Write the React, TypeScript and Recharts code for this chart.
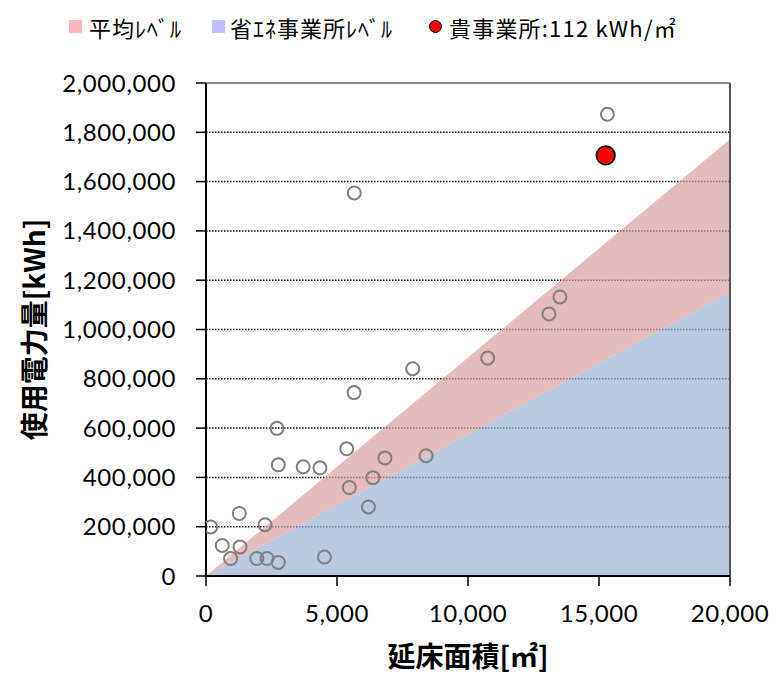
import React from 'react';
import { ComposedChart, Area, Scatter, XAxis, YAxis, CartesianGrid, ReferenceLine, Label } from 'recharts';

// Benchmark level lines (kWh vs floor area)
const levelArea = [0, 20000];
const averageLevel = [0, 1772000];
const savingLevel = [0, 1151000];

// Other facilities
const floorArea = [180, 620, 1270, 1300, 940, 2250, 1940, 2330, 2760, 2710, 2760, 3710, 4350, 4520, 5650, 5370, 5470, 6200, 6370, 6830, 7890, 8400, 10750, 5660, 15320, 13510, 13090];
const consumption = [199000, 124000, 254000, 118000, 71000, 208000, 71000, 71000, 55000, 599000, 451000, 443000, 439000, 77000, 744000, 516000, 359000, 280000, 399000, 479000, 841000, 488000, 884000, 1554000, 1873000, 1132000, 1063000];

// Own facility
const ownArea = [15256];
const ownConsumption = [1706000];

const xTicks = [0, 5000, 10000, 15000, 20000];
const yTicks = [0, 200000, 400000, 600000, 800000, 1000000, 1200000, 1400000, 1600000, 1800000, 2000000];

const legendLabels = ['平均ﾚﾍﾞﾙ', '省ｴﾈ事業所ﾚﾍﾞﾙ', '貴事業所:112 kWh/㎡'];

const levelData = levelArea.map((x, i) => ({ x, band: [savingLevel[i], averageLevel[i]], base: [0, savingLevel[i]] }));
const pointData = floorArea.map((x, i) => ({ x, y: consumption[i] }));
const ownData = ownArea.map((x, i) => ({ x, y: ownConsumption[i] }));

const fmt = (v: number) => v.toLocaleString('en-US');
const tickFont = { fontFamily: 'Lato, "Noto Sans", sans-serif', fontSize: 24, fill: '#000', letterSpacing: 0.6 };
const cjk = '"Noto Sans CJK JP", "Noto Sans", sans-serif';

const GrayCircle = (props: any) => (
  <circle cx={props.cx} cy={props.cy} r={6.5} fill="none" stroke="#7f7f7f" strokeWidth={2} />
);
const RedCircle = (props: any) => (
  <circle cx={props.cx} cy={props.cy} r={9.3} fill="#ff0000" stroke="#000" strokeWidth={1.6} />
);

const YTitle = (props: any) => {
  const vb = props.viewBox;
  const cx = vb.x + 33;
  const cy = vb.y + vb.height / 2;
  return (
    <text x={cx} y={cy} transform={`rotate(-90 ${cx} ${cy})`} textAnchor="middle" dominantBaseline="central"
      style={{ fontFamily: cjk, fontWeight: 700, fontSize: 28, fill: '#000' }}>使用電力量[kWh]</text>
  );
};
const XTitle = (props: any) => {
  const vb = props.viewBox;
  const cx = vb.x + vb.width / 2;
  const cy = vb.y + 79;
  return (
    <text x={cx} y={cy} textAnchor="middle" dominantBaseline="central"
      style={{ fontFamily: cjk, fontWeight: 700, fontSize: 28, fill: '#000' }}>延床面積[㎡]</text>
  );
};

const LegendBar = () => (
  <div style={{ position: 'absolute', left: 0, top: 0, width: 779, height: 50, fontFamily: cjk, fontSize: 22, color: '#000' }}>
    <div style={{ position: 'absolute', left: 69, top: 20, width: 13, height: 13, background: '#ffb8b8' }} />
    <div style={{ position: 'absolute', left: 89, top: 12, lineHeight: '30px', whiteSpace: 'nowrap', letterSpacing: 1 }}>{legendLabels[0]}</div>
    <div style={{ position: 'absolute', left: 212, top: 20, width: 13, height: 13, background: '#c0c0ff' }} />
    <div style={{ position: 'absolute', left: 230, top: 12, lineHeight: '30px', whiteSpace: 'nowrap', letterSpacing: 1 }}>{legendLabels[1]}</div>
    <div style={{ position: 'absolute', left: 429, top: 20, width: 11, height: 11, borderRadius: '50%', background: '#ff0000', border: '1.5px solid #000' }} />
    <div style={{ position: 'absolute', left: 449, top: 12, lineHeight: '30px', whiteSpace: 'nowrap', letterSpacing: 1.2 }}>{legendLabels[2]}</div>
  </div>
);

export default function App() {
  return (
    <div style={{ position: 'absolute', left: 0, top: 0, width: 779, height: 675, background: '#fff' }}>
      <LegendBar />
      <ComposedChart width={779} height={675} data={levelData} margin={{ top: 83, right: 49, bottom: 0, left: 0 }}>
        <CartesianGrid horizontal vertical={false} stroke="#000" strokeWidth={1.5} strokeDasharray="1.5 1.5" />
        <XAxis dataKey="x" type="number" domain={[0, 20000]} ticks={xTicks} tickFormatter={fmt} height={99}
          axisLine={{ stroke: '#000', strokeWidth: 2 }} tickLine={{ stroke: '#000', strokeWidth: 1.5 }} tickSize={10} tickMargin={19}
          tick={tickFont} interval={0} allowDataOverflow>
          <Label content={<XTitle />} />
        </XAxis>
        <YAxis type="number" domain={[0, 2000000]} ticks={yTicks} tickFormatter={fmt} width={206}
          axisLine={{ stroke: '#000', strokeWidth: 2 }} tickLine={{ stroke: '#000', strokeWidth: 1.5 }} tickSize={10} tickMargin={20}
          tick={tickFont} interval={0} allowDataOverflow>
          <Label content={<YTitle />} />
        </YAxis>
        <Area type="linear" dataKey="base" stroke="none" fill="#9bb2d1" fillOpacity={0.7} isAnimationActive={false} />
        <Area type="linear" dataKey="band" stroke="none" fill="#da9fa1" fillOpacity={0.7} isAnimationActive={false} />
        <ReferenceLine y={2000000} stroke="#8c8c8c" strokeWidth={2} />
        <ReferenceLine x={20000} stroke="#555" strokeWidth={2} />
        <Scatter data={pointData} dataKey="y" shape={<GrayCircle />} isAnimationActive={false} />
        <Scatter data={ownData} dataKey="y" shape={<RedCircle />} isAnimationActive={false} />
      </ComposedChart>
    </div>
  );
}
